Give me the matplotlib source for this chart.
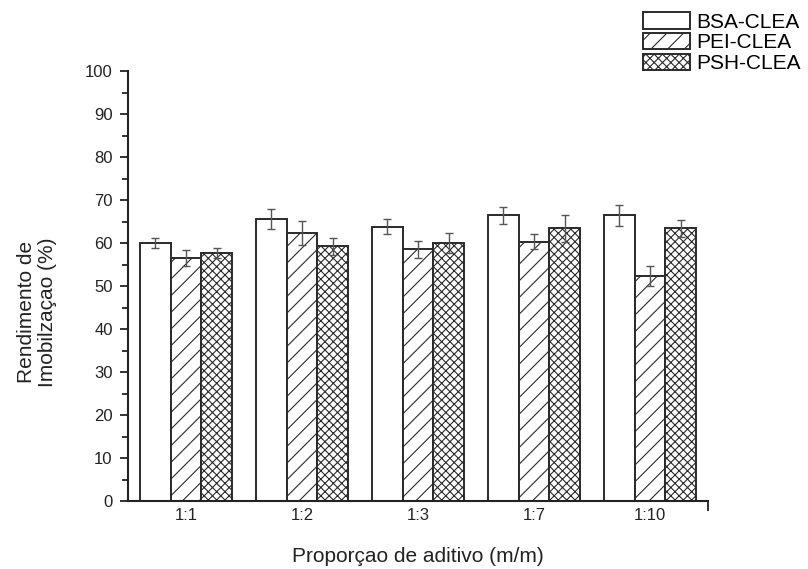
import numpy as np
import matplotlib.pyplot as plt

plt.rcParams['font.family'] = ['Liberation Sans', 'DejaVu Sans']
plt.rcParams['hatch.linewidth'] = 0.8
plt.rcParams['hatch.color'] = '#444444'

# proporções de aditivo e rendimentos (%)
categorias = ['1:1', '1:2', '1:3', '1:7', '1:10']
series = ['BSA-CLEA', 'PEI-CLEA', 'PSH-CLEA']
bsa = [60.0, 65.6, 63.8, 66.4, 66.4]
pei = [56.5, 62.3, 58.5, 60.3, 52.3]
psh = [57.7, 59.2, 60.0, 63.4, 63.4]
bsa_err = [1.2, 2.3, 1.7, 1.9, 2.4]
pei_err = [1.8, 2.8, 1.9, 1.8, 2.3]
psh_err = [1.2, 1.9, 2.3, 3.1, 1.9]

valores = [bsa, pei, psh]
erros = [bsa_err, pei_err, psh_err]
hatches = ['', '//', 'xxxx']

fig = plt.figure(figsize=(8.08, 5.69), dpi=100)
ax = fig.add_axes([0.1584, 0.1195, 0.7178, 0.7557])

x = np.arange(len(categorias))
w = 0.8 / 3
for i in range(3):
    ax.bar(x + (i - 1) * w, valores[i], w, facecolor='white', edgecolor='#2a2a2a',
           linewidth=1.4, hatch=hatches[i], label=series[i], zorder=2)
    ax.errorbar(x + (i - 1) * w, valores[i], yerr=erros[i], fmt='none',
                ecolor='#555555', elinewidth=1.0, capsize=3, capthick=1.0, zorder=3)

ax.set_xlim(-0.5, 4.5)
ax.set_ylim(0, 100)
ax.set_yticks(np.arange(0, 101, 10))
ax.set_yticks(np.arange(5, 100, 10), minor=True)
ax.set_xticks(x)
ax.set_xticklabels(categorias)
ax.set_xticks([4.5], minor=True)

for s in ['top', 'right']:
    ax.spines[s].set_visible(False)
for s in ['left', 'bottom']:
    ax.spines[s].set_linewidth(1.5)
    ax.spines[s].set_color('#222222')

ax.tick_params(axis='y', which='major', length=6, width=1.3, direction='out',
               labelsize=12, colors='#222222', pad=5)
ax.tick_params(axis='y', which='minor', length=4, width=1.3, direction='out', colors='#222222')
ax.tick_params(axis='x', which='major', length=0, labelsize=12, pad=5, colors='#222222')
ax.tick_params(axis='x', which='minor', length=7, width=1.3, direction='out', colors='#222222')

fig.text(418 / 808, 1 - 556 / 569, 'Proporçao de aditivo (m/m)', ha='center', va='center',
         fontsize=15, color='#222222')
fig.text(37 / 808, 1 - 312 / 569, 'Rendimento de\nImobilzaçao (%)', rotation=90,
         ha='center', va='center', multialignment='center', fontsize=15,
         color='#222222', linespacing=1.1)

fig.legend(loc='upper left', bbox_to_anchor=(643 / 808, 1 - 12 / 569), frameon=False,
           fontsize=15, handlelength=2.26, handleheight=0.85, labelspacing=0.06,
           handletextpad=0.3, borderpad=0, borderaxespad=0)

fig.savefig('out.png', dpi=100)
